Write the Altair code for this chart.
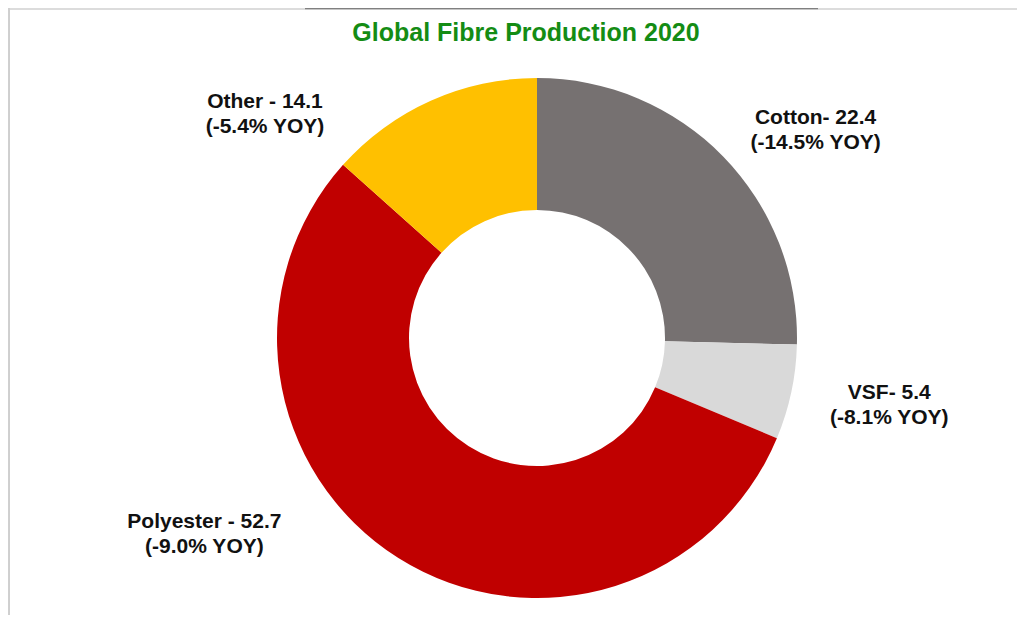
import altair as alt
import pandas as pd

# ---- data ----
title_text = "Global Fibre Production 2020"
fibres = ["Cotton", "VSF", "Polyester", "Other"]
production = ["22.4", "5.4", "52.7", "14.1"]          # million tonnes (label text)
name_sep = ["- ", "- ", " - ", " - "]                  # separator as written in labels
yoy_change = ["-14.5%", "-8.1%", "-9.0%", "-5.4%"]
slice_share = [25.4, 5.9, 55.3, 13.4]                  # slice sizes (%)
slice_colors = ["#767171", "#D9D9D9", "#C00000", "#FFC000"]

df = pd.DataFrame({
    "fibre": fibres,
    "share": slice_share,
    "order": list(range(len(fibres))),
    "label": [f"{f}{s}{p}\n({y} YOY)" for f, s, p, y in zip(fibres, name_sep, production, yoy_change)],
})

total = sum(slice_share)
theta_scale = alt.Scale(domain=[0, total])
FONT = "Liberation Sans"

arcs = alt.Chart(df).mark_arc(outerRadius=260, innerRadius=128).encode(
    theta=alt.Theta("share:Q", stack=True, scale=theta_scale),
    color=alt.Color("fibre:N", scale=alt.Scale(domain=fibres, range=slice_colors), legend=None),
    order=alt.Order("order:Q"),
)

# label placement style: radius, dx, dy
label_style = {
    "Cotton": (350, 28, 24),
    "VSF": (350, 10, -18),
    "Polyester": (350, -146, -112),
    "Other": (350, -129, 83),
}

labels_base = alt.Chart(df).transform_window(
    cum="sum(share)", sort=[alt.SortField("order")]
).transform_calculate(mid="datum.cum - datum.share / 2")

label_layers = []
for f in fibres:
    r, dx, dy = label_style[f]
    label_layers.append(
        labels_base.transform_filter(alt.datum.fibre == f).mark_text(
            radius=r, dx=dx, dy=dy, align="center", baseline="middle",
            lineBreak="\n", lineHeight=25, font=FONT, fontSize=21,
            fontWeight="bold", color="#111111",
        ).encode(
            theta=alt.Theta("mid:Q", scale=theta_scale),
            text="label:N",
        )
    )

frame_df = pd.DataFrame({"k": [0]})
title_mark = alt.Chart(frame_df).mark_text(
    font=FONT, fontSize=25, fontWeight="bold", color="#148C14",
    align="center", baseline="alphabetic",
).encode(x=alt.value(469), y=alt.value(-27), text=alt.value(title_text))

left_line = alt.Chart(frame_df).mark_rule(color="#a0a0a0", strokeWidth=1).encode(
    x=alt.value(-48), y=alt.value(-60), y2=alt.value(547)
)
top_line = alt.Chart(frame_df).mark_rule(color="#d0d0d0", strokeWidth=1.5).encode(
    x=alt.value(-48), x2=alt.value(969), y=alt.value(-59)
)
top_dark = alt.Chart(frame_df).mark_rule(color="#808080", strokeWidth=1.5).encode(
    x=alt.value(248), x2=alt.value(761), y=alt.value(-59.5)
)

chart = alt.layer(arcs, *label_layers, title_mark, left_line, top_line, top_dark).properties(
    width=960,
    height=540,
    padding={"left": 49, "top": 60, "right": 0, "bottom": 7},
    autosize=alt.AutoSizeParams(type="none"),
).configure_view(strokeWidth=0)

chart.save("out.html", embed_options={"renderer": "svg", "actions": False})
